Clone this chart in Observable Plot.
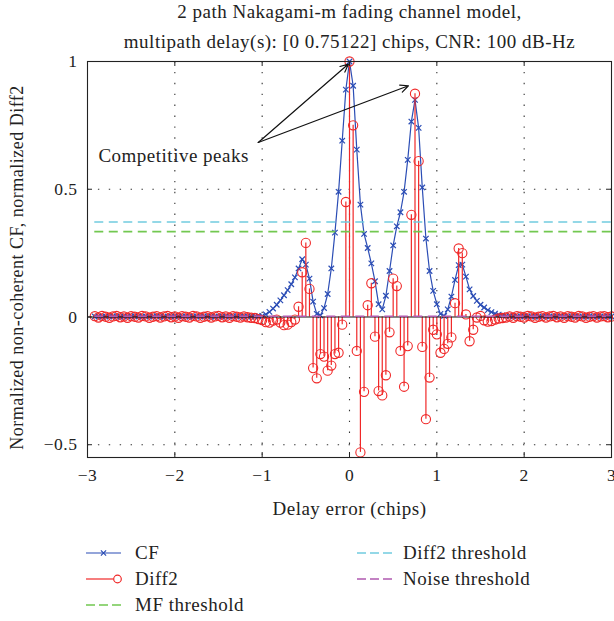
<!DOCTYPE html>
<html><head><meta charset="utf-8">
<script src="https://cdn.jsdelivr.net/npm/d3@7"></script>
<script src="https://cdn.jsdelivr.net/npm/@observablehq/plot@0.6"></script>
<style>html,body{margin:0;padding:0;background:#fff;} #chart{width:614px;height:621px;}</style>
</head><body><div id="chart"></div>
<script>
// Sample grid of the delay axis (1/24 chip spacing), from -70/24 to 72/24 chips
const delayGrid = d3.range(-70, 73).map(i => i / 24);

// Normalized non-coherent correlation function (CF)
const cfValues = [
  0.002,0.002,0.001,0.002,0.002,0.003,0.002,0.001,0.002,0.002,
  0.002,0.003,0.002,0.001,0.002,0.002,0.002,0.003,0.002,0.001,
  0.002,0.002,0.002,0.003,0.002,0.002,0.001,0.002,0.002,0.002,
  0.003,0.002,0.002,0.001,0.002,0.002,0.002,0.002,0.003,0.002,
  0.002,0.002,0.002,0.002,
  0.002,0.003,0.004,0.010,0.020,0.033,0.048,0.065,0.085,0.105,
  0.128,0.155,0.190,0.226,0.205,0.150,0.060,0.012,0.006,0.035,
  0.090,0.190,0.330,0.490,0.690,0.890,1.000,0.905,0.655,0.440,
  0.325,0.270,0.210,0.140,0.050,0.030,0.083,0.180,0.280,0.355,
  0.410,0.490,0.615,0.765,0.850,0.740,0.507,0.307,0.180,0.102,
  0.050,0.012,0.004,0.030,0.080,0.145,0.203,0.205,0.158,0.108,
  0.082,0.063,0.048,0.037,0.027,0.019,0.013,0.009,0.006,0.004,
  0.003,0.003,0.002,0.002,0.002,0.003,0.002,0.002,0.002,0.002,
  0.003,0.002,0.002,0.002,0.002,0.002,0.003,0.002,0.002,0.002,
  0.002,0.002,0.003,0.002,0.002,0.002,0.002,0.002,0.002
];

// Normalized second difference (Diff2)
const diff2Values = [
  0.003,-0.002,0.004,0.001,-0.003,0.002,0.004,-0.001,0.002,-0.003,
  0.003,0.001,-0.002,0.004,0.002,-0.003,0.001,0.003,-0.002,0.002,
  0.004,-0.001,0.002,-0.003,0.003,0.001,-0.002,0.004,0.002,-0.003,
  0.001,0.003,-0.002,0.002,0.004,-0.001,0.002,-0.003,0.003,0.001,
  -0.002,0.002,-0.001,-0.003,
  -0.004,-0.008,-0.012,-0.020,-0.022,-0.014,-0.010,-0.022,-0.032,-0.030,
  -0.020,-0.010,0.040,0.175,0.290,0.110,-0.200,-0.240,-0.145,-0.155,
  -0.210,-0.190,-0.145,-0.140,-0.030,0.450,1.000,0.750,-0.133,-0.530,
  -0.293,0.046,0.132,-0.077,-0.290,-0.307,-0.228,-0.060,0.150,0.121,
  -0.133,-0.273,-0.114,0.400,0.874,0.610,-0.117,-0.400,-0.237,-0.050,
  -0.068,-0.140,-0.125,-0.105,-0.080,0.054,0.268,0.250,0.010,-0.095,
  -0.050,-0.002,0.004,-0.013,-0.018,-0.016,-0.010,-0.006,-0.004,-0.002,
  0.002,-0.003,0.003,0.001,-0.002,0.004,0.002,-0.003,0.001,0.003,
  -0.002,0.002,0.004,-0.001,0.002,-0.003,0.003,0.001,-0.002,0.004,
  0.002,-0.003,0.001,0.003,-0.002,0.002,0.003,-0.001,0.002
];

// Threshold levels
const mfThreshold = 0.334;
const diff2Threshold = 0.372;
const noiseThreshold = 0.003;

// Axis ticks
const xTicks = [-3, -2, -1, 0, 1, 2, 3];
const yTicks = [-0.5, 0, 0.5, 1];
const xGrid = [-2, -1, 0, 1, 2];
const yGrid = [-0.5, 0.5];

// Texts
const titleLines = ["2 path Nakagami-m fading channel model,", "multipath delay(s): [0 0.75122] chips, CNR: 100 dB-Hz"];
const xLabel = "Delay error (chips)";
const yLabel = "Normalized non-coherent CF, normalized Diff2";
const legendLabels = ["CF", "Diff2", "MF threshold", "Diff2 threshold", "Noise threshold"];
const annotationLabel = "Competitive peaks";
const annotationAt = [{x: -2.875, y: 0.63}];
const arrowFrom = {x: -1.045, y: 0.683};
const arrowTips = [{x: -0.012, y: 0.99}, {x: 0.675, y: 0.905}];

const colors = {cf: "#2b4db5", diff2: "#f02828", mf: "#72c850", d2t: "#72cbe0", noise: "#b05ab0"};

const cfData = delayGrid.map((x, i) => ({x, y: cfValues[i]}));
const d2Data = delayGrid.map((x, i) => ({x, y: diff2Values[i]}));
const xMin = delayGrid[0], xMax = delayGrid[delayGrid.length - 1];
const thresholds = [
  {y: mfThreshold, c: colors.mf, w: 1.8},
  {y: diff2Threshold, c: colors.d2t, w: 1.5},
  {y: noiseThreshold, c: colors.noise, w: 1.5}
];
const arrows = arrowTips.map(t => ({x1: arrowFrom.x, y1: arrowFrom.y, x2: t.x, y2: t.y}));

const fmt = d => (d < 0 ? "\u2212" + Math.abs(d) : String(d));
const W = 614, H = 621, mL = 87, mR = 3, mT = 61, mB = 164;
const fw = W - mL - mR, fh = H - mT - mB;
const FONT = "'Liberation Serif', 'Times New Roman', serif";
const FS = 19, LS = "0.5px";

const chart = Plot.plot({
  width: W, height: H,
  marginLeft: mL, marginRight: mR, marginTop: mT, marginBottom: mB,
  style: {fontFamily: FONT, fontSize: FS + "px", letterSpacing: LS, background: "#fff", color: "#222"},
  x: {domain: [-3, 3]},
  y: {domain: [-0.55, 1]},
  marks: [
    // dotted grid
    Plot.ruleX(xGrid, {x: d => d, stroke: "#333", strokeWidth: 1.1, strokeDasharray: "1.4,9.5"}),
    Plot.ruleY(yGrid, {y: d => d, stroke: "#333", strokeWidth: 1.1, strokeDasharray: "1.4,9.5"}),
    // CF
    Plot.line(cfData, {x: "x", y: "y", stroke: colors.cf, strokeWidth: 1.2}),
    Plot.dot(cfData, {x: "x", y: "y", symbol: "times", r: 2.6, stroke: colors.cf, strokeWidth: 1.2}),
    // Diff2 stems
    Plot.ruleX(d2Data, {x: "x", y1: 0, y2: "y", stroke: colors.diff2, strokeWidth: 1.2}),
    Plot.dot(d2Data, {x: "x", y: "y", r: 4.6, stroke: colors.diff2, strokeWidth: 1.1, fill: "none"}),
    // stem baseline
    Plot.ruleY([0], {y: d => d, stroke: "#111", strokeWidth: 1.1}),
    // thresholds
    Plot.ruleY(thresholds, {y: "y", x1: xMin, x2: xMax, stroke: d => d.c, strokeWidth: d => d.w, strokeDasharray: "9,5.5"}),
    // frame and inward ticks
    Plot.frame({stroke: "#222", strokeWidth: 1.1}),
    Plot.ruleX(xTicks, {x: d => d, insetTop: fh - 5, stroke: "#222"}),
    Plot.ruleX(xTicks, {x: d => d, insetBottom: fh - 5, stroke: "#222"}),
    Plot.ruleY(yTicks, {y: d => d, insetRight: fw - 5, stroke: "#222"}),
    Plot.ruleY(yTicks, {y: d => d, insetLeft: fw - 5, stroke: "#222"}),
    Plot.axisX({ticks: xTicks, tickSize: 0, tickPadding: 11, tickFormat: fmt, label: null, fontSize: 17.5}),
    Plot.axisY({ticks: yTicks, tickSize: 0, tickPadding: 10, tickFormat: fmt, label: null, fontSize: 17.5}),
    // annotation
    Plot.arrow(arrows, {x1: "x1", y1: "y1", x2: "x2", y2: "y2", stroke: "#111", strokeWidth: 1.2, headLength: 11, headAngle: 50}),
    Plot.text(annotationAt, {x: "x", y: "y", text: () => annotationLabel, textAnchor: "start", lineAnchor: "middle", fontSize: FS, fill: "#222"}),
    // titles and labels
    Plot.text([titleLines[0]], {frameAnchor: "top", dy: -50, text: d => d, textAnchor: "middle", lineAnchor: "middle", fontSize: FS, fill: "#222"}),
    Plot.text([titleLines[1]], {frameAnchor: "top", dy: -20, text: d => d, textAnchor: "middle", lineAnchor: "middle", fontSize: FS, fill: "#222"}),
    Plot.text([xLabel], {frameAnchor: "bottom", dy: 51, text: d => d, textAnchor: "middle", lineAnchor: "middle", fontSize: FS, fill: "#222"}),
    Plot.text([yLabel], {frameAnchor: "left", dx: -70, dy: 8, rotate: -90, text: d => d, textAnchor: "middle", lineAnchor: "middle", fontSize: 18, fill: "#222"})
  ]
});
document.getElementById("chart").appendChild(chart);

// Legend
const svg = d3.select(chart);
const lg = svg.append("g").attr("font-family", FONT).attr("font-size", FS).attr("letter-spacing", LS).attr("fill", "#222").attr("text-anchor", "start");
const legendPos = [
  {col: 0, row: 0, type: "cf", c: colors.cf},
  {col: 0, row: 1, type: "stem", c: colors.diff2},
  {col: 0, row: 2, type: "dash", c: colors.mf},
  {col: 1, row: 0, type: "dash", c: colors.d2t},
  {col: 1, row: 1, type: "dash", c: colors.noise}
];
const colX = [86, 357], rowY = [553, 579, 605];
legendPos.forEach((p, i) => {
  const x0 = colX[p.col], x1 = x0 + 35, y = rowY[p.row];
  const g = lg.append("g");
  if (p.type === "cf") {
    g.append("line").attr("x1", x0).attr("x2", x1).attr("y1", y).attr("y2", y).attr("stroke", p.c).attr("stroke-width", 1.2);
    const m = x0 + 17.5, s = 2.6;
    g.append("path").attr("d", `M${m-s},${y-s}L${m+s},${y+s}M${m-s},${y+s}L${m+s},${y-s}`).attr("stroke", p.c).attr("stroke-width", 1.2);
  } else if (p.type === "stem") {
    g.append("line").attr("x1", x0).attr("x2", x1 - 7.5).attr("y1", y).attr("y2", y).attr("stroke", p.c).attr("stroke-width", 1.2);
    g.append("circle").attr("cx", x1 - 3.5).attr("cy", y).attr("r", 3.8).attr("fill", "none").attr("stroke", p.c).attr("stroke-width", 1.2);
  } else {
    g.append("line").attr("x1", x0).attr("x2", x1).attr("y1", y).attr("y2", y).attr("stroke", p.c).attr("stroke-width", 1.5).attr("stroke-dasharray", "9,4");
  }
  g.append("text").attr("x", colX[p.col] + (p.col ? 46 : 49)).attr("y", y).attr("dy", "0.33em").text(legendLabels[i]);
});
</script>
</body></html>
